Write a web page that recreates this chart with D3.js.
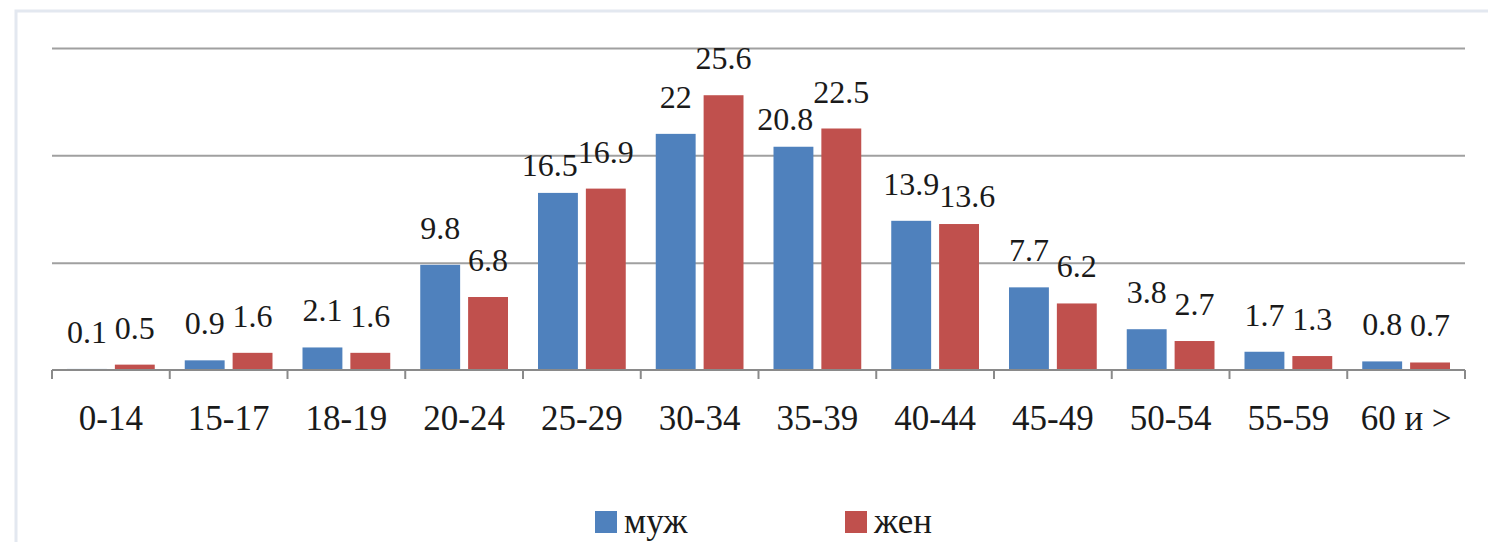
<!DOCTYPE html>
<html>
<head>
<meta charset="utf-8">
<script src="https://cdn.jsdelivr.net/npm/d3@7"></script>
<style>
  body { margin: 0; background: #fff; }
</style>
</head>
<body>
<div id="chart"></div>
<script>
// data
var categories = ["0-14", "15-17", "18-19", "20-24", "25-29", "30-34", "35-39", "40-44", "45-49", "50-54", "55-59", "60 и >"];
var seriesNames = ["муж", "жен"];
var male = [0.1, 0.9, 2.1, 9.8, 16.5, 22, 20.8, 13.9, 7.7, 3.8, 1.7, 0.8];
var female = [0.5, 1.6, 1.6, 6.8, 16.9, 25.6, 22.5, 13.6, 6.2, 2.7, 1.3, 0.7];
var gridTicks = [0, 10, 20, 30];

var colors = ["#4f81bd", "#c0504d"];
var fontFamily = "'Liberation Serif', 'Times New Roman', Tinos, 'DejaVu Serif', serif";

var svgWidth = 1488;
var svgHeight = 542;

var plot = { left: 52, right: 1465, top: 48, bottom: 370 };

var svg = d3.select("#chart")
    .append("svg")
    .attr("width", svgWidth)
    .attr("height", svgHeight)
    .attr("font-family", fontFamily);

// light frame of the surrounding panel
svg.append("path")
    .attr("d", "M16,542 V11 H1488")
    .attr("fill", "none")
    .attr("stroke", "#e3e8f0")
    .attr("stroke-width", 3);

// scales
var x0 = d3.scaleBand()
    .domain(categories)
    .range([plot.left, plot.right]);

var x1 = d3.scaleBand()
    .domain(seriesNames)
    .range([15, x0.bandwidth() - 15])
    .paddingInner(1 / 6);

var y = d3.scaleLinear()
    .domain([0, 30])
    .range([plot.bottom, plot.top]);

// gridlines
var grid = svg.append("g")
    .attr("transform", `translate(${plot.left},0)`)
    .call(d3.axisLeft(y).tickValues(gridTicks.slice(1)).tickSize(-(plot.right - plot.left)).tickFormat(""));
grid.select(".domain").remove();
grid.selectAll("line")
    .attr("stroke", "#a0a0a0")
    .attr("stroke-width", 2);

// bars
var rows = categories.map(function (c, i) {
    return { cat: c, values: [male[i], female[i]] };
});

var groups = svg.append("g")
    .selectAll("g")
    .data(rows)
    .enter()
    .append("g")
    .attr("transform", d => `translate(${x0(d.cat)},0)`);

groups.selectAll("rect")
    .data(d => d.values.map((v, j) => ({ name: seriesNames[j], value: v, j: j })))
    .enter()
    .append("rect")
    .attr("x", d => x1(d.name))
    .attr("width", x1.bandwidth())
    .attr("y", d => y(d.value))
    .attr("height", d => y(0) - y(d.value))
    .attr("fill", d => colors[d.j]);

// value labels
groups.selectAll("text.val")
    .data(d => d.values.map((v, j) => ({ name: seriesNames[j], value: v, j: j })))
    .enter()
    .append("text")
    .attr("class", "val")
    .attr("x", d => x1(d.name) + x1.bandwidth() / 2)
    .attr("y", d => y(d.value) - 26)
    .attr("text-anchor", "middle")
    .attr("fill", "#1a1a1a")
    .style("font-size", "32px")
    .text(d => String(d.value));

// when the two labels of a pair collide, drop the smaller one a bit and slide it sideways
function hits(a, b) {
    return a.x < b.x + b.width && b.x < a.x + a.width &&
        a.y + 8 < b.y + b.height && b.y + 8 < a.y + a.height;
}
groups.each(function (row) {
    var labels = d3.select(this).selectAll("text.val").nodes();
    if (!hits(labels[0].getBBox(), labels[1].getBBox())) return;
    var k = row.values[0] < row.values[1] ? 0 : 1;
    var low = d3.select(labels[k]);
    low.attr("y", +low.attr("y") + 9);
    var a = labels[0].getBBox(), b = labels[1].getBBox();
    if (hits(a, b)) {
        var overlap = a.x + a.width - b.x;
        low.attr("x", +low.attr("x") + (k === 0 ? -overlap : overlap));
    }
});

// x axis
var xAxis = svg.append("g")
    .attr("transform", `translate(0,${plot.bottom})`);

xAxis.append("line")
    .attr("x1", plot.left)
    .attr("x2", plot.right)
    .attr("stroke", "#8a8a8a")
    .attr("stroke-width", 2);

var tickPos = categories.map(c => x0(c)).concat([plot.right]);
xAxis.selectAll("line.tick")
    .data(tickPos)
    .enter()
    .append("line")
    .attr("class", "tick")
    .attr("x1", d => d)
    .attr("x2", d => d)
    .attr("y1", 0)
    .attr("y2", 9)
    .attr("stroke", "#8a8a8a")
    .attr("stroke-width", 2);

xAxis.selectAll("text")
    .data(categories)
    .enter()
    .append("text")
    .attr("x", d => x0(d) + x0.bandwidth() / 2)
    .attr("y", 60)
    .attr("text-anchor", "middle")
    .attr("fill", "#1a1a1a")
    .style("font-size", "35px")
    .text(d => d);

// legend
var legendX = [595, 845];
var legend = svg.append("g")
    .selectAll("g")
    .data(seriesNames)
    .enter()
    .append("g")
    .attr("transform", (d, i) => `translate(${legendX[i]},511)`);

legend.append("rect")
    .attr("width", 22)
    .attr("height", 22)
    .attr("fill", (d, i) => colors[i]);

legend.append("text")
    .attr("x", 29)
    .attr("y", 22)
    .attr("fill", "#1a1a1a")
    .style("font-size", "35px")
    .text(d => d);
</script>
</body>
</html>
